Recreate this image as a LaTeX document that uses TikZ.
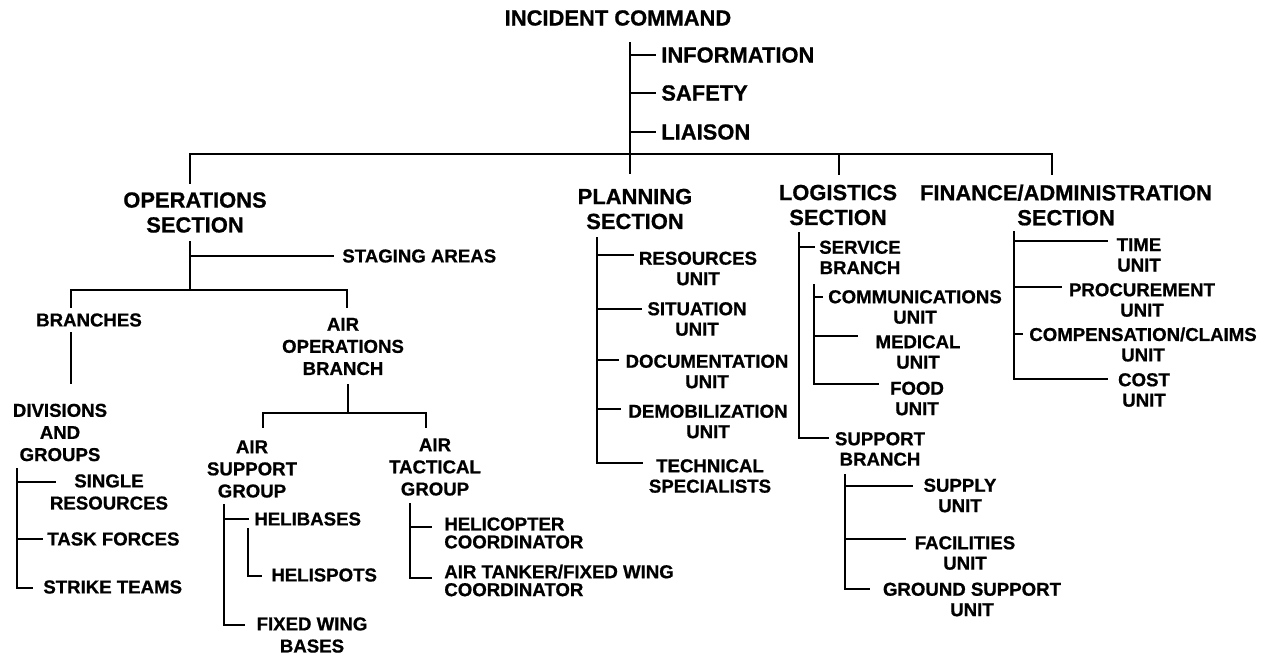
\documentclass[tikz,border=0pt]{standalone}
\usepackage{fontspec}
\setmainfont{Liberation Sans}[BoldFeatures={FakeBold=0.8}]
\begin{document}
\begin{tikzpicture}[x=1bp,y=-1bp,line width=2.7bp,line cap=rect,
  big/.style={font=\bfseries\fontsize{22}{25}\selectfont,inner sep=0pt,align=center},
  sm/.style={font=\bfseries\fontsize{18.7}{20.5}\selectfont,inner sep=0pt,align=center},
  wide/.style={font=\bfseries\fontsize{18.7}{22.2}\selectfont},
  tight/.style={font=\bfseries\fontsize{18.7}{18}\selectfont}]
\useasboundingbox (0,0) rectangle (1269,656);

% ---------- nodes ----------
\node[big] (ic) at (618,18) {INCIDENT COMMAND};
\node[big,anchor=west] (info) at (660,55) {INFORMATION};
\node[big,anchor=west] (safety) at (660,93) {SAFETY};
\node[big,anchor=west] (liaison) at (660,132) {LIAISON};
\node[big] (ops) at (195,212.5) {OPERATIONS\\SECTION};
\node[big] (plan) at (635,209) {PLANNING\\SECTION};
\node[big] (log) at (838,205) {LOGISTICS\\SECTION};
\node[big] (fin) at (1066,205) {FINANCE/ADMINISTRATION\\SECTION};

\node[sm,anchor=west] (staging) at (341,256) {STAGING AREAS};
\node[sm] (branches) at (89,320) {BRANCHES};
\node[sm,wide] (airops) at (343,346.5) {AIR\\OPERATIONS\\BRANCH};
\node[sm,wide] (div) at (60,432.5) {DIVISIONS\\AND\\GROUPS};
\node[sm,wide] (single) at (109,492) {SINGLE\\RESOURCES};
\node[sm,anchor=west] (task) at (46,539) {TASK FORCES};
\node[sm,anchor=west] (strike) at (42,587) {STRIKE TEAMS};
\node[sm,wide] (airsup) at (252,469) {AIR\\SUPPORT\\GROUP};
\node[sm,wide] (airtac) at (435,467) {AIR\\TACTICAL\\GROUP};
\node[sm,anchor=west] (helibases) at (253,519) {HELIBASES};
\node[sm,anchor=west] (helispots) at (270,575) {HELISPOTS};
\node[sm,wide] (fixed) at (312,635) {FIXED WING\\BASES};
\node[sm,tight,align=left,anchor=west] (helico) at (443,533) {HELICOPTER\\COORDINATOR};
\node[sm,tight,align=left,anchor=west] (tanker) at (443,580.5) {AIR TANKER/FIXED WING\\COORDINATOR};

\node[sm] (res) at (698,268.5) {RESOURCES\\UNIT};
\node[sm] (sit) at (697,319) {SITUATION\\UNIT};
\node[sm] (doc) at (707,371.5) {DOCUMENTATION\\UNIT};
\node[sm] (demob) at (708,421.5) {DEMOBILIZATION\\UNIT};
\node[sm] (tech) at (710,476) {TECHNICAL\\SPECIALISTS};

\node[sm] (service) at (860,257.5) {SERVICE\\BRANCH};
\node[sm] (comm) at (915,307) {COMMUNICATIONS\\UNIT};
\node[sm] (medical) at (918,352) {MEDICAL\\UNIT};
\node[sm] (food) at (917,398.5) {FOOD\\UNIT};
\node[sm] (support) at (880,449) {SUPPORT\\BRANCH};
\node[sm] (supply) at (960,495.5) {SUPPLY\\UNIT};
\node[sm] (facil) at (965,553) {FACILITIES\\UNIT};
\node[sm] (ground) at (972,599.5) {GROUND SUPPORT\\UNIT};

\node[sm] (time) at (1139,255) {TIME\\UNIT};
\node[sm] (proc) at (1142,300) {PROCUREMENT\\UNIT};
\node[sm] (comp) at (1143,344.5) {COMPENSATION/CLAIMS\\UNIT};
\node[sm] (cost) at (1144,390) {COST\\UNIT};

% ---------- junctions ----------
\coordinate (icTop) at (630,43);
\coordinate (planTop) at (630,173);
\coordinate (barL) at (190,154);
\coordinate (barR) at (1052,154);
\coordinate (opsTop) at (190,183);
\coordinate (logTop) at (839,174);
\coordinate (finTop) at (1052,174);

% command staff
\draw (icTop) -- (planTop);
\draw (630,55) -- (655,55);
\draw (630,93) -- (655,93);
\draw (630,132) -- (655,132);
% general staff bar
\draw (opsTop) -- (barL) -- (barR) -- (finTop);
\draw (839,154) -- (logTop);

% operations
\coordinate (opsA) at (190,242);
\coordinate (opsB) at (190,290);
\draw (opsA) -- (opsB);
\draw (190,256) -- (333,256);
\draw (71,307) -- (71,290) -- (347,290) -- (347,307);
\draw (71,333) -- (71,383);
\draw (17,469) -- (17,588) -- (32,588);
\draw (17,482) -- (55,482);
\draw (17,539) -- (42,539);
\draw (348,385) -- (348,413);
\draw (263,427) -- (263,413) -- (426,413) -- (426,427);
\draw (224,505) -- (224,625) -- (244,625);
\draw (224,519) -- (248,519);
\draw (248,529) -- (248,576) -- (261,576);
\draw (410,504) -- (410,578) -- (431,578);
\draw (410,527) -- (431,527);

% planning
\draw (597,238) -- (597,463) -- (642,463);
\draw (597,255) -- (633,255);
\draw (597,309) -- (641,309);
\draw (597,360) -- (618,360);
\draw (597,409) -- (620,409);

% logistics
\draw (799,233) -- (799,438) -- (828,438);
\draw (799,247) -- (814,247);
\draw (814,285) -- (814,384) -- (878,384);
\draw (814,297) -- (822,297);
\draw (814,336) -- (857,336);
\draw (845,475) -- (845,589) -- (869,589);
\draw (845,486) -- (912,486);
\draw (845,539) -- (905,539);

% finance
\draw (1014,232) -- (1014,379) -- (1107,379);
\draw (1014,241) -- (1107,241);
\draw (1014,287) -- (1061,287);
\draw (1014,334) -- (1022,334);
\end{tikzpicture}
\end{document}
